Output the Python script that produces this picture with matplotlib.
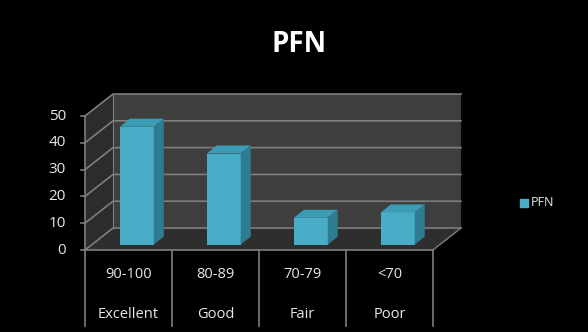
import matplotlib.pyplot as plt
from matplotlib.patches import Polygon

# data
categories = ['90-100', '80-89', '70-79', '<70']
grades = ['Excellent', 'Good', 'Fair', 'Poor']
pfn = [44, 34, 10, 12]
y_ticks = [0, 10, 20, 30, 40, 50]

# fake 3D geometry (x in categories, y in value units)
wall_dx, wall_dy = 0.322, 8.2     # depth offset of the back wall
bar_x0, bar_w = 0.40, 0.39        # bar front face position within a category
bar_base = 2.0                    # bars stand a bit inside the floor
bar_dx, bar_dy = 0.115, 3.0       # depth of a bar
n = len(categories)
ymax = y_ticks[-1]

fig = plt.figure(figsize=(5.88, 3.32), dpi=100, facecolor='black')
ax = fig.add_axes([0, 0, 1, 1])
ax.set_facecolor('black')
ax.set_xlim((0 - 85) / 87, (588 - 85) / 87)
ax.set_ylim((250 - 332) / 2.68, 250 / 2.68)
ax.axis('off')

grid_c = '#7e7e7e'
txt_c = '#e8e8e8'

# walls and floor
ax.add_patch(Polygon([(wall_dx, wall_dy), (n + wall_dx, wall_dy), (n + wall_dx, ymax + wall_dy),
                      (wall_dx, ymax + wall_dy)], closed=True, fc='#3e3e3e', ec='none'))
ax.add_patch(Polygon([(0, 0), (wall_dx, wall_dy), (wall_dx, ymax + wall_dy), (0, ymax)],
                     closed=True, fc='#2c2c2c', ec='none'))
ax.add_patch(Polygon([(0, 0), (n, 0), (n + wall_dx, wall_dy), (wall_dx, wall_dy)],
                     closed=True, fc='#2e2e2e', ec='none'))

# gridlines on side wall and back wall
for t in y_ticks:
    ax.plot([0, wall_dx, n + wall_dx], [t, t + wall_dy, t + wall_dy], color=grid_c, lw=1.2)
ax.plot([wall_dx, wall_dx], [wall_dy, ymax + wall_dy], color=grid_c, lw=0.8)
ax.plot([n, n + wall_dx], [0, wall_dy], color=grid_c, lw=1.0)

# y axis with ticks and labels
ax.plot([0, 0], [0, ymax], color=grid_c, lw=1.2)
for t in y_ticks:
    ax.plot([-0.05, 0], [t, t], color=grid_c, lw=1.2)
    ax.text(-0.218, t, str(t), color=txt_c, fontsize=11, ha='right', va='center',
            family='Open Sans')

# bars: front face + top + side
front_x = [i + bar_x0 for i in range(n)]
ax.bar(front_x, pfn, width=bar_w, bottom=bar_base, align='edge', color='#4aadc7',
       edgecolor='none', zorder=3)
for x0, v in zip(front_x, pfn):
    top = bar_base + v
    ax.add_patch(Polygon([(x0, top), (x0 + bar_w, top), (x0 + bar_w + bar_dx, top + bar_dy),
                          (x0 + bar_dx, top + bar_dy)], closed=True, fc='#3b9cb6', ec='none', zorder=3))
    ax.add_patch(Polygon([(x0 + bar_w, bar_base), (x0 + bar_w + bar_dx, bar_base + bar_dy),
                          (x0 + bar_w + bar_dx, top + bar_dy), (x0 + bar_w, top)],
                         closed=True, fc='#2e7c91', ec='none', zorder=3))

# category table below
table_bottom = (250 - 326) / 2.68
ax.plot([0, n], [0, 0], color=grid_c, lw=1.2, zorder=4)
for i in range(n + 1):
    ax.plot([i, i], [0, table_bottom], color=grid_c, lw=1.2)
for i, (c, g) in enumerate(zip(categories, grades)):
    ax.text(i + 0.5, (250 - 275) / 2.68, c, color=txt_c, fontsize=10.5, ha='center', va='center',
            family='Open Sans')
    ax.text(i + 0.5, (250 - 314) / 2.68, g, color=txt_c, fontsize=10.5, ha='center', va='center',
            family='Open Sans')

# title
ax.text(2.46, (250 - 44) / 2.68, 'PFN', color='white', fontsize=20, fontweight='bold',
        ha='center', va='center', family='Open Sans')

# legend
ax.scatter([(524 - 85) / 87], [(250 - 203) / 2.68], marker='s', s=36, color='#4aadc7')
ax.text((531 - 85) / 87, (250 - 203) / 2.68, 'PFN', color=txt_c, fontsize=9, ha='left',
        va='center', family='Open Sans')

fig.savefig('out.png', dpi=100, facecolor='black')
